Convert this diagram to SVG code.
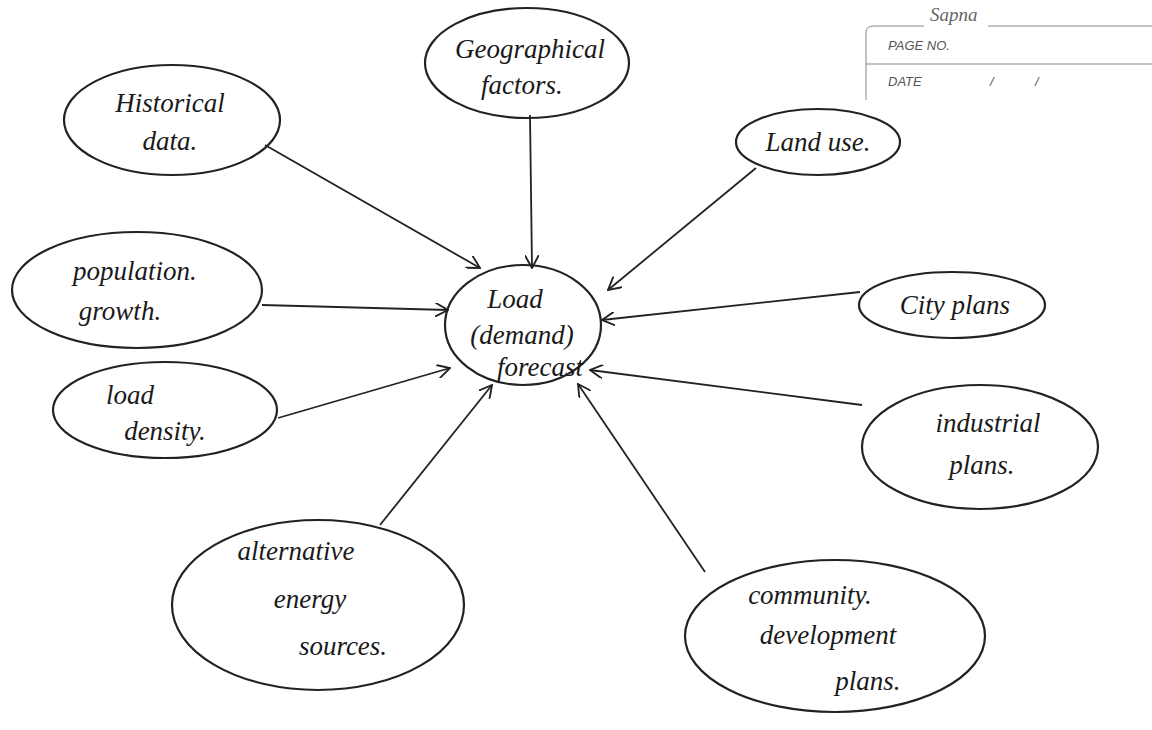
<svg xmlns="http://www.w3.org/2000/svg" width="1152" height="730" viewBox="0 0 1152 730">
<style>
.bubble{fill:none;stroke:#222;stroke-width:2.2}
.lbl{font-family:"Liberation Serif",serif;font-style:italic;font-size:27px;fill:#1a1a1a;text-anchor:middle}
.edge{stroke:#222;stroke-width:1.8;fill:none;marker-end:url(#tip)}
.pad{font-family:"Liberation Sans",sans-serif;font-style:italic;font-size:13px;fill:#555}
.rule{stroke:#888;stroke-width:1;fill:none}
</style>
<defs>
<marker id="tip" viewBox="0 0 12 12" refX="11" refY="6" markerWidth="14" markerHeight="14" markerUnits="userSpaceOnUse" orient="auto">
<path d="M0,0 L11,6 L0,12" fill="none" stroke="#222" stroke-width="1.6"/>
</marker>
</defs>
<rect width="1152" height="730" fill="#fff"/>

<!-- notebook header -->
<g id="header">
<path class="rule" d="M866,100 V32 Q866,26 874,26 H924 M988,26 H1152 M866,64 H1152"/>
<text x="930" y="21" font-family="Liberation Serif,serif" font-style="italic" font-size="19" fill="#666">Sapna</text>
<text class="pad" x="888" y="50">PAGE NO.</text>
<text class="pad" x="888" y="86">DATE</text>
<text class="pad" x="990" y="86">/</text>
<text class="pad" x="1035" y="86">/</text>
</g>

<g id="connectors">
<line class="edge" x1="265" y1="145" x2="480" y2="268"/>
<line class="edge" x1="530" y1="115" x2="532" y2="268"/>
<line class="edge" x1="756" y1="168" x2="608" y2="290"/>
<line class="edge" x1="262" y1="305" x2="448" y2="310"/>
<line class="edge" x1="860" y1="292" x2="602" y2="320"/>
<line class="edge" x1="278" y1="418" x2="450" y2="368"/>
<line class="edge" x1="862" y1="405" x2="590" y2="370"/>
<line class="edge" x1="380" y1="525" x2="492" y2="385"/>
<line class="edge" x1="705" y1="572" x2="578" y2="384"/>
</g>

<g id="center">
<ellipse class="bubble" cx="523" cy="325" rx="78" ry="60"/>
<text class="lbl" x="515" y="308">Load</text>
<text class="lbl" x="522" y="344">(demand)</text>
<text class="lbl" x="540" y="376" font-size="21">forecast</text>
</g>

<g id="geographical">
<ellipse class="bubble" cx="527" cy="63" rx="102" ry="55"/>
<text class="lbl" x="530" y="58">Geographical</text>
<text class="lbl" x="522" y="94">factors.</text>
</g>

<g id="historical">
<ellipse class="bubble" cx="172" cy="120" rx="108" ry="55"/>
<text class="lbl" x="170" y="112">Historical</text>
<text class="lbl" x="170" y="150">data.</text>
</g>

<g id="landuse">
<ellipse class="bubble" cx="818" cy="142" rx="82" ry="33"/>
<text class="lbl" x="818" y="151">Land use.</text>
</g>

<g id="population">
<ellipse class="bubble" cx="137" cy="290" rx="125" ry="58"/>
<text class="lbl" x="135" y="280">population.</text>
<text class="lbl" x="120" y="320">growth.</text>
</g>

<g id="cityplans">
<ellipse class="bubble" cx="952" cy="305" rx="93" ry="33"/>
<text class="lbl" x="955" y="314">City plans</text>
</g>

<g id="loaddensity">
<ellipse class="bubble" cx="165" cy="410" rx="112" ry="48"/>
<text class="lbl" x="130" y="404">load</text>
<text class="lbl" x="165" y="440">density.</text>
</g>

<g id="industrial">
<ellipse class="bubble" cx="980" cy="447" rx="118" ry="62"/>
<text class="lbl" x="988" y="432">industrial</text>
<text class="lbl" x="982" y="474">plans.</text>
</g>

<g id="alternative">
<ellipse class="bubble" cx="318" cy="605" rx="146" ry="85"/>
<text class="lbl" x="296" y="560">alternative</text>
<text class="lbl" x="310" y="608">energy</text>
<text class="lbl" x="343" y="655">sources.</text>
</g>

<g id="community">
<ellipse class="bubble" cx="835" cy="636" rx="150" ry="76"/>
<text class="lbl" x="810" y="604">community.</text>
<text class="lbl" x="828" y="644">development</text>
<text class="lbl" x="868" y="690">plans.</text>
</g>
</svg>
